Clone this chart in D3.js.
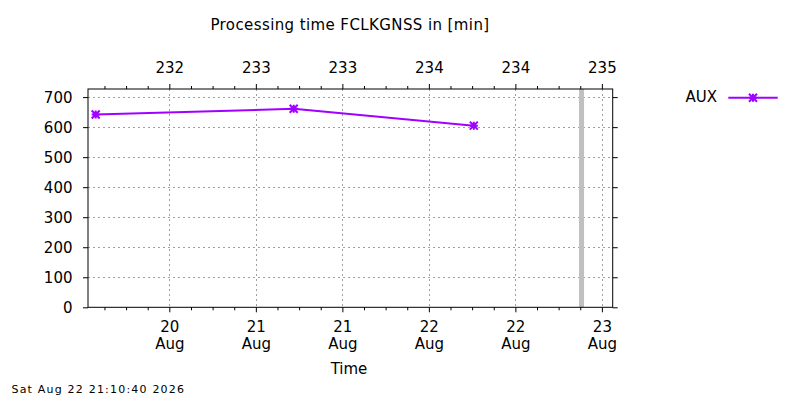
<!DOCTYPE html>
<html><head><meta charset="utf-8">
<script src="https://cdn.jsdelivr.net/npm/d3@7"></script>
<style>
body{margin:0;background:#fff;}
svg text{font-family:"DejaVu Sans",sans-serif;fill:#000;}
</style></head>
<body><svg id="c" width="800" height="400"></svg>
<script>
const title = "Processing time FCLKGNSS in [min]";
const xLabel = "Time";
const timestamp = "Sat Aug 22 21:10:40 2026";
const seriesName = "AUX";
const times = ["2026-08-20T01:47:00Z","2026-08-21T05:15:00Z","2026-08-22T06:14:00Z"];
const values = [642, 661, 605];
const nowTime = "2026-08-22T21:10:40Z";
const xDomain = ["2026-08-20T00:43:00Z","2026-08-23T01:30:00Z"];
const yDomain = [0, 727];
const xTickTimes = ["2026-08-20T12:00:00Z","2026-08-21T00:00:00Z","2026-08-21T12:00:00Z","2026-08-22T00:00:00Z","2026-08-22T12:00:00Z","2026-08-23T00:00:00Z"];
const xTickDays = ["20","21","21","22","22","23"];
const xTickMonths = ["Aug","Aug","Aug","Aug","Aug","Aug"];
const topTickLabels = ["232","233","233","234","234","235"];
const yTicks = [0,100,200,300,400,500,600,700];

const color = "#a000ff";
const m = {l:88, r:612.7, t:89, b:307.3};
const svg = d3.select("#c");
svg.append("rect").attr("width",800).attr("height",400).attr("fill","#fff");

const x = d3.scaleUtc().domain(xDomain.map(d=>new Date(d))).range([m.l, m.r]);
const y = d3.scaleLinear().domain(yDomain).range([m.b, m.t]);
const majors = xTickTimes.map(d=>new Date(d));
const majorSet = new Set(majors.map(d=>+d));
const minors = d3.utcHour.every(3).range(x.domain()[0], x.domain()[1]).filter(d=>!majorSet.has(+d));

// grid
const grid = svg.append("g").attr("stroke","#a0a0a0").attr("stroke-width",1).attr("stroke-dasharray","2,3");
grid.selectAll("line.gx").data(majors).join("line")
  .attr("x1",d=>Math.round(x(d))+0.5).attr("x2",d=>Math.round(x(d))+0.5).attr("y1",m.t).attr("y2",m.b);
grid.selectAll("line.gy").data(yTicks.slice(1)).join("line")
  .attr("x1",m.l).attr("x2",m.r).attr("y1",d=>Math.round(y(d))+0.5).attr("y2",d=>Math.round(y(d))+0.5);

// now bar
svg.append("rect").attr("x",x(new Date(nowTime))-2.5).attr("width",5)
  .attr("y",m.t).attr("height",m.b-m.t).attr("fill","#c0c0c0");

function styleAxis(g){
  g.select(".domain").remove();
  g.selectAll("line").attr("stroke","#000");
  g.selectAll("text").attr("font-size","15px").attr("fill","#000").attr("font-family","DejaVu Sans");
}
// bottom major
const gb = svg.append("g").attr("transform",`translate(0,${m.b})`)
  .call(d3.axisBottom(x).tickValues(majors).tickSize(5).tickPadding(10).tickFormat((d,i)=>xTickDays[i]));
styleAxis(gb);
gb.selectAll("text").each(function(d,i){
  const t=d3.select(this); t.text(null).attr("dy",null).attr("y",0);
  t.append("tspan").attr("x",0).attr("y",24.4).text(xTickDays[i]);
  t.append("tspan").attr("x",0).attr("y",42.2).text(xTickMonths[i]);
});
svg.append("g").attr("transform",`translate(0,${m.b})`)
  .call(d3.axisBottom(x).tickValues(minors).tickSize(3).tickFormat("")).call(styleAxis);
// top
const gt = svg.append("g").attr("transform",`translate(0,${m.t})`)
  .call(d3.axisTop(x).tickValues(majors).tickSize(5).tickFormat((d,i)=>topTickLabels[i]));
styleAxis(gt);
gt.selectAll("text").attr("y",-16.5).attr("dy",null);
svg.append("g").attr("transform",`translate(0,${m.t})`)
  .call(d3.axisTop(x).tickValues(minors).tickSize(3).tickFormat("")).call(styleAxis);
// left
const gl = svg.append("g").attr("transform",`translate(${m.l},0)`)
  .call(d3.axisLeft(y).tickValues(yTicks).tickSize(5).tickPadding(10).tickFormat(d3.format("d")));
styleAxis(gl);
gl.selectAll("text").attr("x",-15.5).attr("dy","0.36em");
svg.append("g").attr("transform",`translate(${m.r},0)`)
  .call(d3.axisRight(y).tickValues(yTicks).tickSize(5).tickFormat("")).call(styleAxis);

// frame
svg.append("rect").attr("x",m.l).attr("y",m.t).attr("width",m.r-m.l).attr("height",m.b-m.t)
  .attr("fill","none").attr("stroke","#000").attr("stroke-width",1);

// data
const data = times.map((t,i)=>({t:new Date(t), v:values[i]}));
svg.append("path").datum(data).attr("fill","none").attr("stroke",color).attr("stroke-width",2)
  .attr("d",d3.line().x(d=>x(d.t)).y(d=>y(d.v)));
function marker(g,cx,cy){
  const s=4;
  g.append("path").attr("d",`M${cx-s},${cy}H${cx+s}M${cx},${cy-s}V${cy+s}M${cx-s},${cy-s}L${cx+s},${cy+s}M${cx-s},${cy+s}L${cx+s},${cy-s}`)
   .attr("stroke",color).attr("stroke-width",2).attr("fill","none");
}
const mg = svg.append("g");
data.forEach(d=>marker(mg,x(d.t),y(d.v)));

// legend
svg.append("text").attr("x",717).attr("y",101.7).attr("text-anchor","end").attr("font-size","15px").text(seriesName);
svg.append("line").attr("x1",728.3).attr("x2",777.7).attr("y1",97.7).attr("y2",97.7).attr("stroke",color).attr("stroke-width",2);
marker(svg,753,97.7);

// titles
svg.append("text").attr("x",350).attr("y",29.5).attr("text-anchor","middle").attr("font-size","15px").attr("letter-spacing","0.4px").text(title);
svg.append("text").attr("x",349).attr("y",374).attr("text-anchor","middle").attr("font-size","15px").text(xLabel);
svg.append("text").attr("x",11.5).attr("y",392.7).attr("font-size","11px").attr("letter-spacing","1.2px").text(timestamp);
</script></body></html>
